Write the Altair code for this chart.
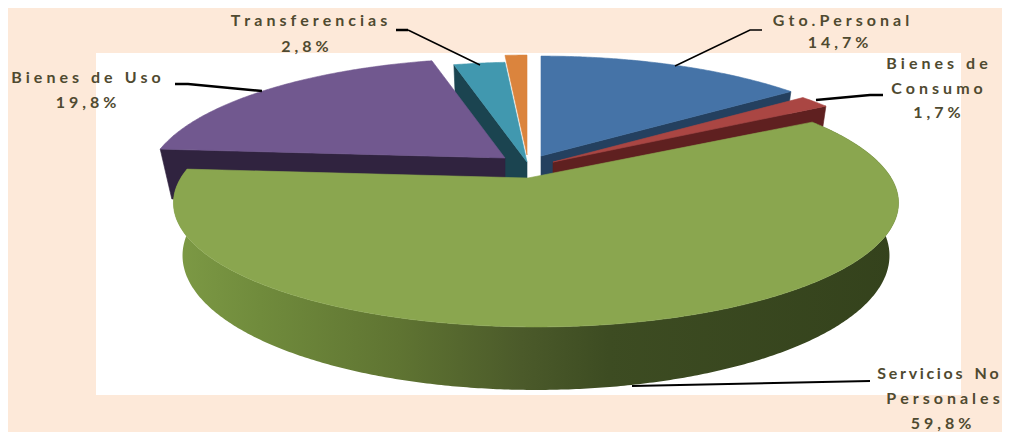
import math
import altair as alt
import pandas as pd

# Chart values
categories = ["Gto.Personal", "Bienes de Consumo", "Servicios No Personales", "Bienes de Uso", "Transferencias", "Otros"]
shares = [14.7, 1.7, 59.8, 19.8, 2.8, 1.2]
top_colors = ["#4573a7", "#aa4643", "#8aa64f", "#71588f", "#4198af", "#db843d"]
side_colors = ["#24405f", "#5f2020", "#4a5e2a", "#30233f", "#1b4450", "#7a4a20"]

BG = "#fde9d9"
TEXT = "#4f4a30"
A, B, P, PX = 351.0, 119.6, 0.197, 0.2
H = 50.6
SHRINK = 0.025  # the lower ring of the pie sits slightly further from the viewer

total = sum(shares)
edges = [0.0]
for s in shares:
    edges.append(edges[-1] + s / total * 360.0)


def rim(t, cx, cy, depth=0.0, ka=1.0):
    r = math.radians(t)
    w = 1 + P * math.cos(r)
    k = ka * (1 - SHRINK * depth / H)
    return (cx + k * A * math.sin(r) / (1 + PX * math.cos(r)), cy - B * math.cos(r) / w + depth / w)


def arc(t0, t1, cx, cy, depth=0.0, ka=1.0):
    n = max(2, int(abs(t1 - t0)) * 2)
    return [rim(t0 + (t1 - t0) * i / n, cx, cy, depth, ka) for i in range(n + 1)]


X = alt.X("x:Q", axis=None, scale=alt.Scale(domain=[8, 1002], range=[0, 994], zero=False, nice=False))
Y = alt.Y("y:Q", axis=None, scale=alt.Scale(domain=[8, 432], range=[0, 424], zero=False, nice=False))


def shape(points, fill, stroke=True):
    df = pd.DataFrame({"x": [p[0] for p in points] + [points[0][0]],
                       "y": [p[1] for p in points] + [points[0][1]],
                       "i": list(range(len(points) + 1))})
    kw = dict(stroke=fill, strokeWidth=0.6) if stroke else dict(strokeOpacity=0, strokeWidth=0)
    return alt.Chart(df).mark_line(fill=fill, interpolate="linear", clip=False, **kw).encode(x=X, y=Y, order="i:Q")


def leader(points, width):
    df = pd.DataFrame({"x": [p[0] for p in points], "y": [p[1] for p in points], "i": list(range(len(points)))})
    return alt.Chart(df).mark_line(color="#000000", strokeWidth=width).encode(x=X, y=Y, order="i:Q")


def label(text, x, y, sep="\u2005"):
    spaced = sep.join(text).replace(sep + " " + sep, "\u2003")
    df = pd.DataFrame({"t": [spaced], "x": [x], "y": [y]})
    return alt.Chart(df).mark_text(font="Lato", fontWeight="bold", fontSize=16, color=TEXT,
                                   align="center", baseline="middle").encode(x=X, y=Y, text="t:N")


plot_bg = alt.Chart(pd.DataFrame({"x": [96], "x2": [961], "y": [53], "y2": [395]})).mark_rect(color="#ffffff").encode(
    x=X, x2="x2:Q", y=Y, y2="y2:Q")

layers = [plot_bg]


def face(t, cx, cy, color, shift=0):
    end = rim(t, cx, cy)
    low = rim(t, cx, cy, H)
    return shape([(cx, cy), end, (low[0] + shift, low[1]), (cx, cy + H)], color)


# Teal slice
tx, ty = 527, 162
layers.append(face(edges[4], tx, ty, side_colors[4]))
layers.append(shape([(tx, ty)] + arc(edges[4], edges[5], tx, ty), top_colors[4]))

# Orange slice
ox, oy = 527, 155
layers.append(shape([(ox, oy)] + arc(edges[5], edges[6], ox, oy), top_colors[5]))

# Blue slice
bx, by = 541, 156
layers.append(face(edges[1], bx, by, side_colors[0]))
layers.append(shape([(bx, by)] + arc(edges[0], edges[1], bx, by), top_colors[0]))

# Red slice
rx, ry = 553, 162
layers.append(face(edges[2], rx, ry, side_colors[1]))
layers.append(shape([(rx, ry)] + arc(edges[1], edges[2], rx, ry), top_colors[1]))

# Purple slice
px, py = 505, 158
layers.append(face(edges[3], px, py, side_colors[3], shift=3))
layers.append(shape([(px, py)] + arc(edges[3], edges[4], px, py), top_colors[3]))

# Green slice
gx, gy, gk = 536, 178, 1.012
wall_fill = alt.LinearGradient(
    gradient="linear", x1=0, x2=1, y1=0, y2=0,
    stops=[alt.GradientStop(color="#7d9a45", offset=0.0),
           alt.GradientStop(color="#708b3c", offset=0.12),
           alt.GradientStop(color="#5f7432", offset=0.31),
           alt.GradientStop(color="#4b5a2a", offset=0.48),
           alt.GradientStop(color="#3d4c22", offset=0.6),
           alt.GradientStop(color="#34421c", offset=1.0)])
top_arc = arc(edges[2], edges[3], gx, gy, 0, gk)
bot_arc = arc(edges[2], edges[3], gx, gy, H, gk)
layers.append(shape(top_arc + bot_arc[::-1], wall_fill, stroke=False))
layers.append(shape([(528, 178)] + top_arc, top_colors[2]))

# Leader lines
layers += [
    leader([(396, 30), (408, 30)], 2.5), leader([(408, 30), (480, 65)], 1.5),
    leader([(675, 66), (750, 30), (762, 30)], 1.5),
    leader([(816, 100), (870, 95), (883, 95)], 2.5),
    leader([(175, 84), (188, 84), (262, 91)], 2.5),
    leader([(632, 386), (870, 381)], 2.2),
]

# Labels
layers += [
    label("Transferencias", 309, 21), label("2,8%", 305, 47),
    label("Gto.Personal", 841, 21), label("14,7%", 838, 43),
    label("Bienes de", 937, 64), label("Consumo", 937, 89), label("1,7%", 937, 113),
    label("Bienes de Uso", 86, 78), label("19,8%", 86, 103),
    label("Servicios No", 938, 374, "\u2006"), label("Personales", 943, 399), label("59,8%", 941, 424),
]

chart = alt.layer(*layers).properties(
    width=994, height=424, background=BG,
    padding=0, autosize=alt.AutoSizeParams(type="none"),
).configure_view(stroke=None)

chart.save("out.html", embed_options={"renderer": "svg", "actions": False})
